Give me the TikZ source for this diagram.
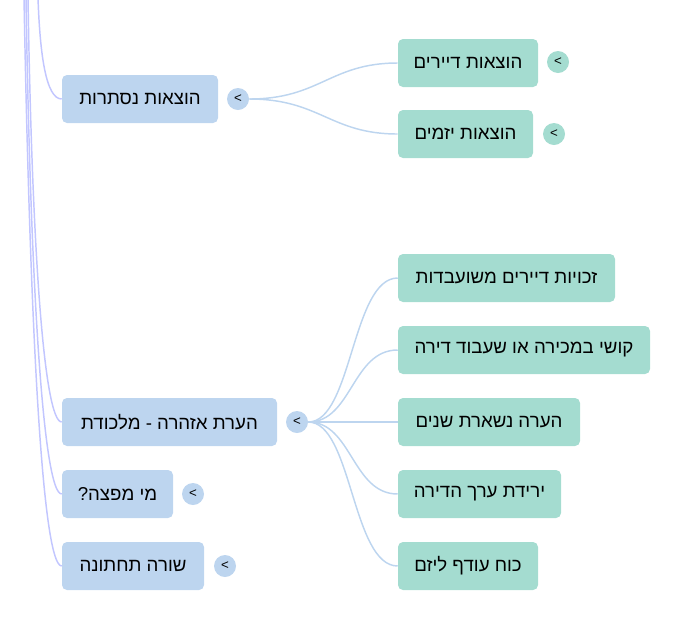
\documentclass[tikz,border=0pt]{standalone}
\usepackage{fontspec}
\setmainfont{Liberation Sans}
\newfontfamily\hebfont[Script=Hebrew]{Liberation Sans}
\TeXXeTstate=1
\definecolor{nodeblue}{HTML}{BDD5EF}
\definecolor{nodegreen}{HTML}{A4DCD0}
\definecolor{linelav}{HTML}{C2C6FF}
\definecolor{lineblue}{HTML}{BDD5EF}
\tikzset{
  bluebox/.style={fill=nodeblue, rounded corners=3.75pt, minimum height=36pt, inner sep=0pt, font=\hebfont\fontsize{14}{16}\selectfont, text=black},
  greenbox/.style={fill=nodegreen, rounded corners=3.75pt, minimum height=36pt, inner sep=0pt, font=\hebfont\fontsize{14}{16}\selectfont, text=black},
  bluedot/.style={circle, fill=nodeblue, minimum size=16.5pt, inner sep=0pt, font=\fontsize{10}{10}\selectfont},
  greendot/.style={circle, fill=nodegreen, minimum size=16.5pt, inner sep=0pt, font=\fontsize{10}{10}\selectfont},
  lavline/.style={draw=linelav, line width=1.1pt},
  conn/.style={draw=lineblue, line width=1.1pt}
}
\newcommand{\heb}[1]{\beginR #1\endR}
\begin{document}
\begin{tikzpicture}[x=0.75pt, y=-0.75pt]
\useasboundingbox (0,0) rectangle (680,619);
\clip (0,0) rectangle (680,619);

% left column
\node[bluebox, minimum width=117pt] (hn) at (140,99) {\heb{הוצאות נסתרות}};
\node[bluebox, minimum width=161.25pt] (ha) at (169.5,422) {\heb{הערת אזהרה - מלכודת}};
\node[bluebox, minimum width=83.25pt] (mm) at (117.5,494) {\heb{מי מפצה?}};
\node[bluebox, minimum width=106.5pt] (st) at (133,566) {\heb{שורה תחתונה}};

\node[bluedot] (c1) at (238,99) {<};
\node[bluedot] (c2) at (297,422) {<};
\node[bluedot] (c3) at (193,494) {<};
\node[bluedot] (c4) at (225,566) {<};

% right column
\node[greenbox, minimum width=105pt] (hd) at (468,63) {\heb{הוצאות דיירים}};
\node[greenbox, minimum width=101.25pt] (hy) at (465.5,134) {\heb{הוצאות יזמים}};
\node[greendot] (g1) at (558,62) {<};
\node[greendot] (g2) at (554,134) {<};

\node[greenbox, minimum width=162.75pt] (zd) at (506.5,278) {\heb{זכויות דיירים משועבדות}};
\node[greenbox, minimum width=189pt] (km) at (524,350) {\heb{קושי במכירה או שעבוד דירה}};
\node[greenbox, minimum width=136.5pt] (hs) at (489,422) {\heb{הערה נשארת שנים}};
\node[greenbox, minimum width=122.25pt] (ye) at (479.5,494) {\heb{ירידת ערך הדירה}};
\node[greenbox, minimum width=105pt] (ko) at (468,566) {\heb{כוח עודף ליזם}};

% left trunk lines
\coordinate (t0) at (38,-2);
\coordinate (t1) at (28,-2);
\coordinate (t2) at (26,-2);
\coordinate (t3) at (24,-2);
\draw[lavline] (t0) .. controls (40,55) and (46,99) .. (hn.west);
\draw[lavline] (t1) .. controls (32,250) and (44,422) .. (ha.west);
\draw[lavline] (t2) .. controls (30,260) and (42,494) .. (mm.west);
\draw[lavline] (t3) .. controls (29,270) and (40,566) .. (st.west);

% right connectors
\draw[conn] (c1.east) .. controls (320,99) and (330,63) .. (hd.west);
\draw[conn] (c1.east) .. controls (320,99) and (330,134) .. (hy.west);
\draw[conn] (c2.east) .. controls (352,422) and (352,278) .. (zd.west);
\draw[conn] (c2.east) .. controls (352,422) and (352,350) .. (km.west);
\draw[conn] (c2.east) -- (hs.west);
\draw[conn] (c2.east) .. controls (352,422) and (352,494) .. (ye.west);
\draw[conn] (c2.east) .. controls (352,422) and (352,566) .. (ko.west);
\end{tikzpicture}
\end{document}
